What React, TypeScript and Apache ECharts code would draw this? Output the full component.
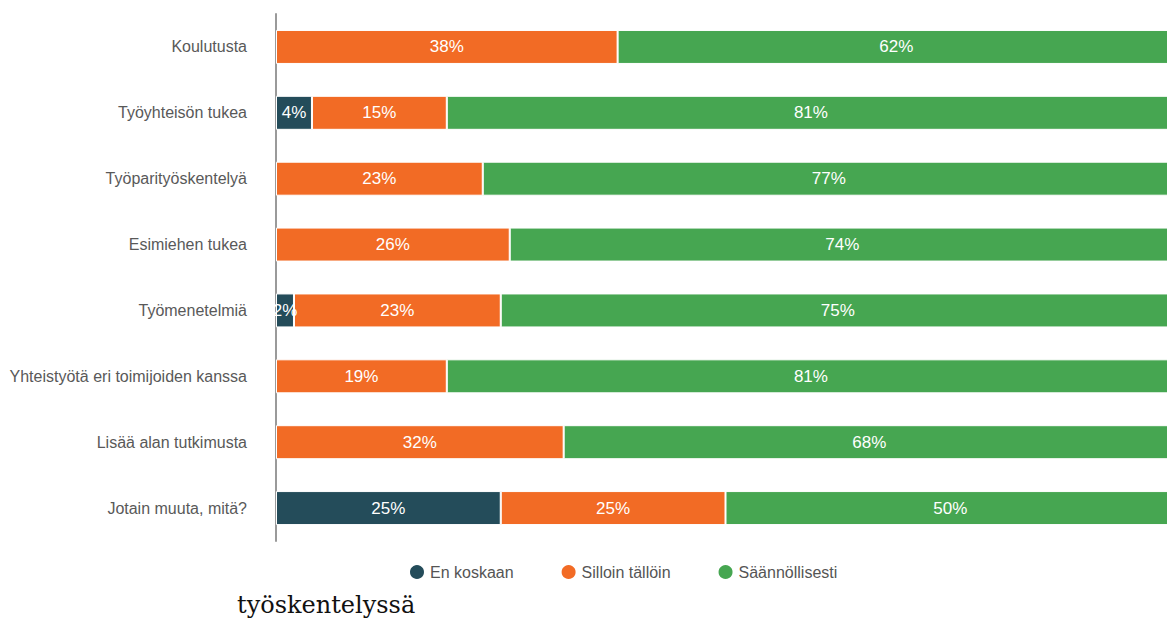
import React, { useEffect, useRef } from "react";
import * as echarts from "echarts";

const categories = [
  "Koulutusta",
  "Työyhteisön tukea",
  "Työparityöskentelyä",
  "Esimiehen tukea",
  "Työmenetelmiä",
  "Yhteistyötä eri toimijoiden kanssa",
  "Lisää alan tutkimusta",
  "Jotain muuta, mitä?",
];
const enKoskaan = [0, 4, 0, 0, 2, 0, 0, 25];
const silloinTalloin = [38, 15, 23, 26, 23, 19, 32, 25];
const saannollisesti = [62, 81, 77, 74, 75, 81, 68, 50];
const seriesNames = ["En koskaan", "Silloin tällöin", "Säännöllisesti"];
const colors = ["#244c5a", "#f26b25", "#46a651"];

export default function App() {
  const ref = useRef<HTMLDivElement>(null);
  useEffect(() => {
    if (!ref.current) return;
    const chart = echarts.init(ref.current, null, { renderer: "svg" });
    const datas = [enKoskaan, silloinTalloin, saannollisesti];
    chart.setOption({
      animation: false,
      textStyle: { fontFamily: "Liberation Sans, Arial, sans-serif" },
      grid: { left: 276, right: 15, top: 14, bottom: 80 },
      xAxis: { type: "value", min: 0, max: 100, show: false },
      yAxis: {
        type: "category",
        data: categories,
        inverse: true,
        axisLine: { show: true, lineStyle: { color: "#9a9a9a", width: 2 } },
        axisTick: { show: false },
        axisLabel: { color: "#595959", fontSize: 16, margin: 29 },
      },
      legend: {
        data: seriesNames,
        left: 403,
        top: 558,
        icon: "circle",
        itemWidth: 16,
        itemHeight: 16,
        itemGap: 46,
        textStyle: { color: "#555", fontSize: 16 },
      },
      series: seriesNames.map((name, i) => ({
        name,
        type: "bar",
        stack: "total",
        barWidth: 34,
        data: datas[i].map((v) => (v === 0 ? null : v)),
        itemStyle: { color: colors[i], borderColor: "#ffffff", borderWidth: 1 },
        label: {
          show: true,
          position: "inside",
          color: "#ffffff",
          fontSize: 17,
          formatter: "{c}%",
        },
      })),
      graphic: [
        {
          type: "text",
          left: 237,
          top: 593,
          style: {
            text: "työskentelyssä",
            fontFamily: "DejaVu Serif, serif",
            fontSize: 24,
            fill: "#111",
          },
        },
      ],
    });
    return () => chart.dispose();
  }, []);
  return (
    <div
      style={{
        position: "fixed",
        left: 0,
        top: 0,
        width: 1167,
        height: 621,
        overflow: "hidden",
        background: "#fff",
      }}
    >
      <div ref={ref} style={{ width: 1190, height: 621 }} />
    </div>
  );
}
